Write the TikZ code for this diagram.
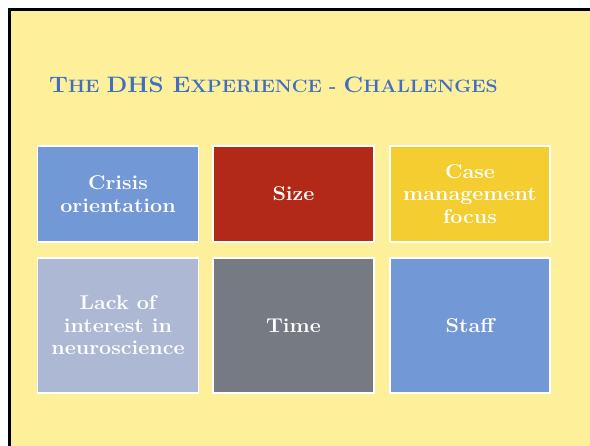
\documentclass[tikz,border=0pt]{standalone}
\usepackage{fontspec}
\setmainfont{Latin Modern Roman}[FakeStretch=1.08]
\definecolor{slidebg}{HTML}{FEF09B}
\definecolor{titleblue}{HTML}{3F6EC2}
\definecolor{cblue}{HTML}{7398D6}
\definecolor{cred}{HTML}{B22A17}
\definecolor{cyellow}{HTML}{F4CD30}
\definecolor{clav}{HTML}{ADB9D4}
\definecolor{cgray}{HTML}{767A83}
\newcommand{\bigsc}[1]{{\fontsize{22.4}{26}\selectfont #1}}
\begin{document}
\begin{tikzpicture}[x=1bp,y=-1bp,
  tile/.style={draw=white, line width=1.2bp, text=white, align=center, inner sep=0pt,
    font=\bfseries\fontsize{20}{22.5}\selectfont},
  rowa/.style={minimum height=96bp},
  rowb/.style={minimum height=135bp}]
\useasboundingbox (0,0) rectangle (590,446);
\fill[white] (0,0) rectangle (590,446);
\fill[slidebg] (10,10) rectangle (600,456);
\draw[line width=2.6bp] (9.7,460) -- (9.7,9.7) -- (600,9.7);
\node[anchor=base west, text=titleblue, inner sep=0pt,
  font=\bfseries\fontsize{18}{22}\selectfont] (title) at (49,93)
  {\bigsc{T}HE \bigsc{DHS E}XPERIENCE - \bigsc{C}HALLENGES};
\node[tile, rowa, fill=cblue, minimum width=161bp] (a1) at (118,194) {Crisis\\orientation};
\node[tile, rowa, fill=cred, minimum width=161bp] (a2) at (293.5,194) {Size};
\node[tile, rowa, fill=cyellow, minimum width=160bp] (a3) at (470,194) {Case\\management\\focus};
\node[tile, rowb, fill=clav, minimum width=161bp] (b1) at (118,325.5) {Lack of\\interest in\\neuroscience};
\node[tile, rowb, fill=cgray, minimum width=161bp] (b2) at (293.5,325.5) {Time};
\node[tile, rowb, fill=cblue, minimum width=160bp] (b3) at (470,325.5) {Staff};
\fill[slidebg] (580,11.2) rectangle (600,456);
\end{tikzpicture}
\end{document}
